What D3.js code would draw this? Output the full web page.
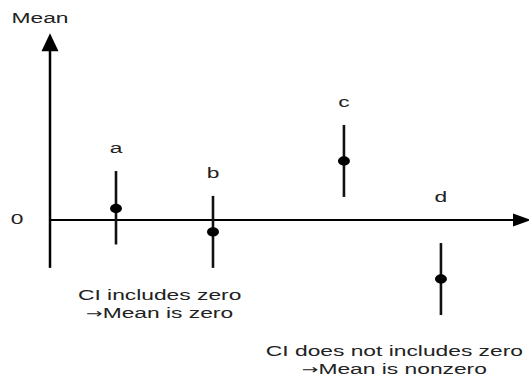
<!DOCTYPE html>
<html>
<head>
<meta charset="utf-8">
<script src="https://cdn.jsdelivr.net/npm/d3@7"></script>
<style>
  body { margin: 0; background: #fff; }
  text { font-family: "Liberation Sans", Arial, sans-serif; fill: #222; }
  .arrow { font-family: "DejaVu Sans", sans-serif; }
</style>
</head>
<body>
<svg width="529" height="378"></svg>
<script>
// groups and their mean with confidence interval
var groups = ["a", "b", "c", "d"];
var xPos   = [1, 2, 3.35, 4.35];
var means  = [0.32, -0.33, 1.64, -1.64];
var lower  = [-0.68, -1.33, 0.64, -2.64];
var upper  = [1.36, 0.67, 2.64, -0.64];

var notes = [
  { lines: ["CI includes zero", "Mean is zero"], x: 1.45, y: -2.08 },
  { lines: ["CI does not includes zero", "Mean is nonzero"], x: 3.87, y: -3.64 }
];

var svg = d3.select("svg"),
    width = +svg.attr("width"),
    height = +svg.attr("height");

// the picture is stretched sideways, text too
var stretch = 1.52;

var x = d3.scaleLinear().domain([0, 5]).range([19, 504]);
var y = d3.scaleLinear().domain([-1.5, 5]).range([274, 40]);

var x0 = 50;

function label(t, px, py, arrow) {
  var txt = svg.append("text")
      .attr("transform", "translate(" + px + "," + py + ") scale(" + stretch + ",1)")
      .attr("text-anchor", "middle")
      .attr("dy", "0.35em")
      .style("font-size", "15px");
  if (arrow) {
    txt.append("tspan").attr("class", "arrow").style("font-size", "13px").text("\u2192");
  }
  txt.append("tspan").text(t);
}

// y axis
svg.append("line")
    .attr("x1", x0).attr("x2", x0)
    .attr("y1", y(-1.33)).attr("y2", y(4.7))
    .attr("stroke", "#000").attr("stroke-width", 2.5);
svg.append("path")
    .attr("d", "M" + x0 + "," + y(5.19) + "L" + (x0 + 8.5) + "," + (y(5.19) + 18) +
               "L" + (x0 - 8.5) + "," + (y(5.19) + 18) + "Z")
    .attr("fill", "#000");

// x axis
var xEnd = 531;
svg.append("line")
    .attr("x1", x0).attr("x2", xEnd - 14)
    .attr("y1", y(0)).attr("y2", y(0))
    .attr("stroke", "#000").attr("stroke-width", 2);
svg.append("path")
    .attr("d", "M" + xEnd + "," + y(0) + "L" + (xEnd - 18) + "," + (y(0) - 6.5) +
               "L" + (xEnd - 18) + "," + (y(0) + 6.5) + "Z")
    .attr("fill", "#000");

label("Mean", 40, 18);
label("0", 17, y(0) - 1);

// error bars
var g = svg.append("g");
groups.forEach(function(d, i) {
  var cx = x(xPos[i]);
  g.append("line")
      .attr("x1", cx).attr("x2", cx)
      .attr("y1", y(lower[i])).attr("y2", y(upper[i]))
      .attr("stroke", "#111").attr("stroke-width", 2.6);
  g.append("ellipse")
      .attr("cx", cx).attr("cy", y(means[i]))
      .attr("rx", 6).attr("ry", 4.7)
      .attr("fill", "#000");
  label(d, cx, y(Math.max(upper[i], 0)) - 23);
});

notes.forEach(function(n) {
  n.lines.forEach(function(t, j) {
    label(t, x(n.x), y(n.y) + j * 18, j === 1);
  });
});
</script>
</body>
</html>
